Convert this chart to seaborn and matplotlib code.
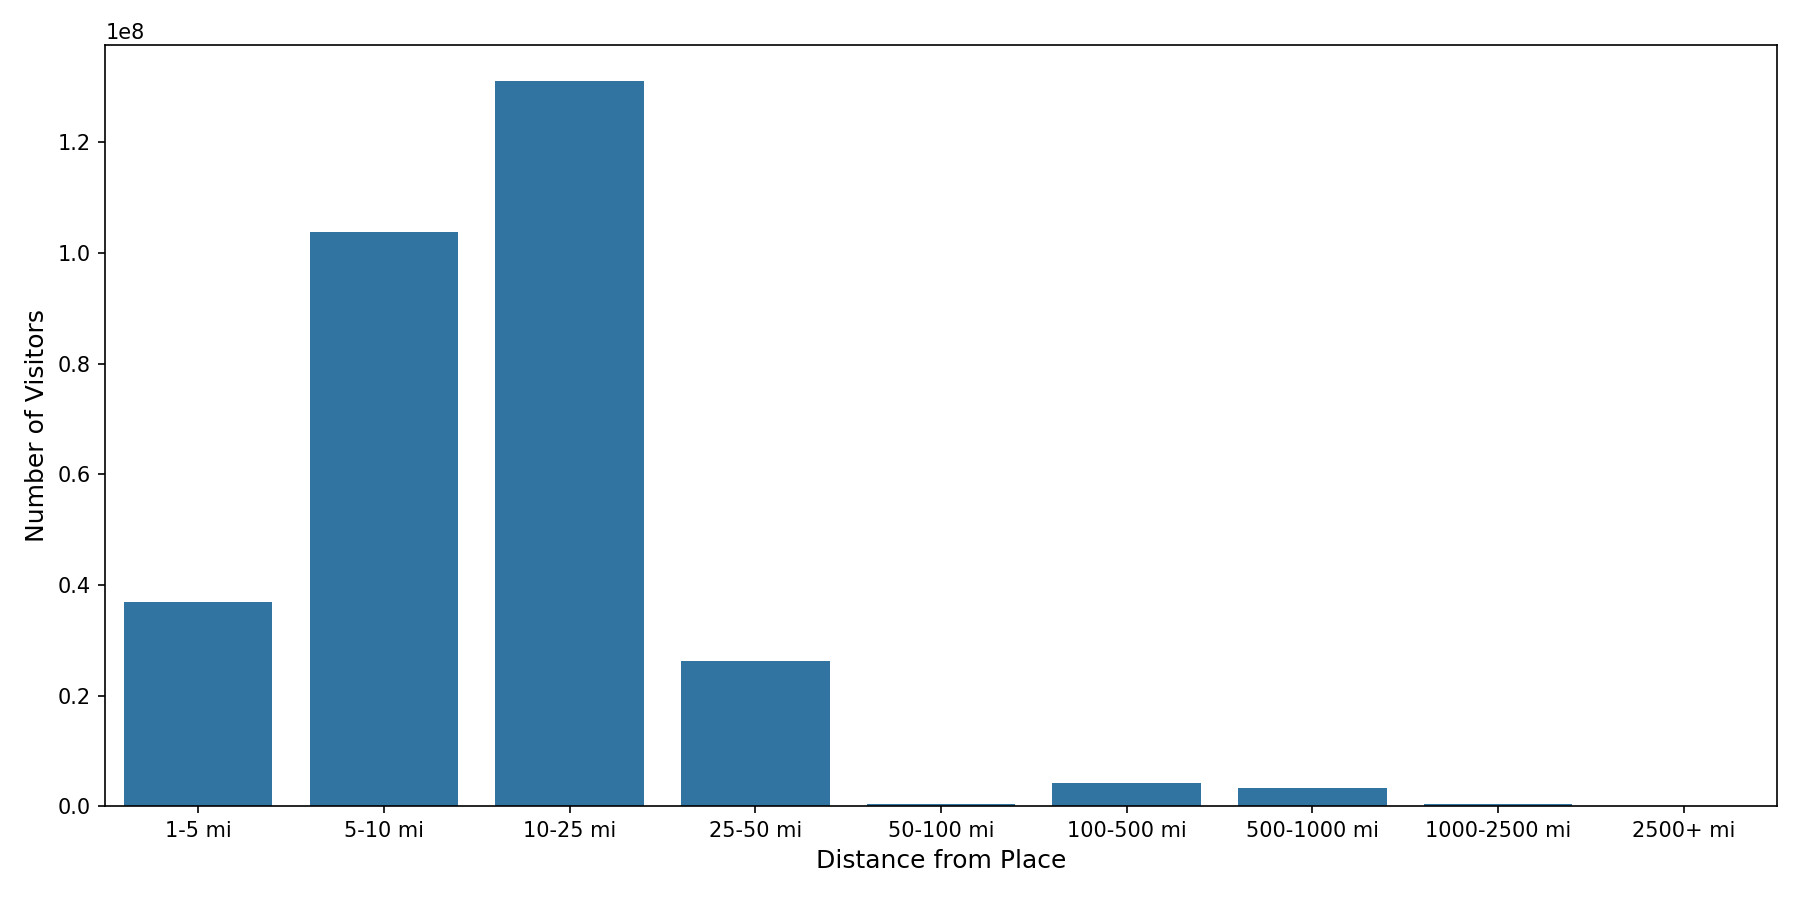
import matplotlib
matplotlib.use("Agg")
import matplotlib.pyplot as plt
import seaborn as sns
import pandas as pd

categories = ["1-5 mi", "5-10 mi", "10-25 mi", "25-50 mi", "50-100 mi",
              "100-500 mi", "500-1000 mi", "1000-2500 mi", "2500+ mi"]
visitors = [37.0e6, 103.7e6, 131.0e6, 26.2e6, 0.5e6, 4.3e6, 3.4e6, 0.5e6, 0.05e6]

df = pd.DataFrame({"Distance from Place": categories, "Number of Visitors": visitors})

fig, ax = plt.subplots(figsize=(12, 6), dpi=150)
sns.barplot(data=df, x="Distance from Place", y="Number of Visitors", color="#1f77b4", ax=ax)
ax.set_xlabel("Distance from Place", fontsize=12)
ax.set_ylabel("Number of Visitors", fontsize=12)
fig.subplots_adjust(left=0.0585, right=0.987, bottom=0.104, top=0.95)
fig.savefig("out.png", dpi=150)
